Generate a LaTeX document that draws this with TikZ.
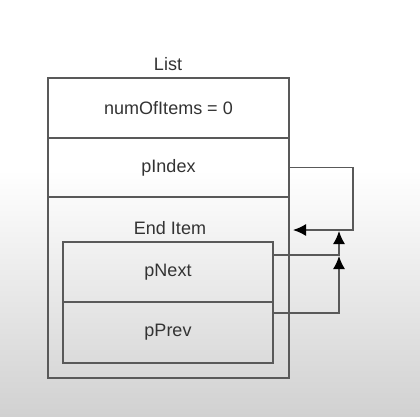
\documentclass[tikz,border=0pt]{standalone}
\usepackage{fontspec}
\setmainfont{Liberation Sans}
\usetikzlibrary{arrows.meta,calc}

\tikzset{
  field/.style={draw=black!65, line width=1.6pt, minimum width=#1, text=black!80, inner sep=0pt},
  field/.default=241pt,
  ptr/.style={draw=black!65, line width=1.4pt, -{Latex[length=13pt,width=12pt,black]}},
}

\begin{document}
\begin{tikzpicture}[x=1pt, y=-1pt, every node/.style={font=\fontsize{18}{21}\selectfont}]
    % Background
    \fill[white] (0,0) rectangle (420,416);
    \shade[top color=white, bottom color=gray!36] (0,170) rectangle (420,416);
    \useasboundingbox (0,0) rectangle (420,416);

    % List structure
    \node[field, minimum height=300pt] (list) at (168.5,228) {};
    \node[text=black!80] (listlabel) at (168,64) {List};
    \node[field, minimum height=60pt] (num) at (168.5,108) {numOfItems = 0};
    \node[field, minimum height=59pt] (pindex) at (168.5,167.5) {pIndex};

    % End item
    \node[text=black!80] (endlabel) at (170,228) {End Item};
    \node[field=210pt, minimum height=60pt] (pnext) at (168,272) {pNext};
    \node[field=210pt, minimum height=61pt] (pprev) at (168,332.5) {pPrev};

    % Pointers
    \coordinate (back) at (293,230);
    \draw[ptr] (pindex.east) -- (353,167.5) -- (353,230) -- (back);
    \draw[ptr] ([yshift=17pt]pnext.east) -- (339,255) -- (339,231);
    \draw[ptr] ([yshift=19.5pt]pprev.east) -- (339,313) -- (339,256);
\end{tikzpicture}
\end{document}
